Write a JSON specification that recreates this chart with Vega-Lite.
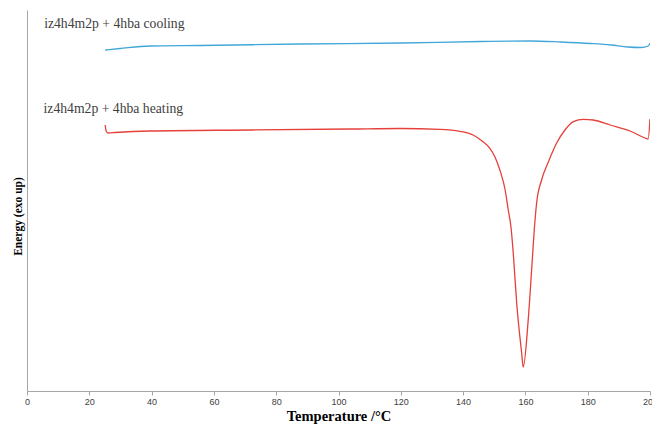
{
  "$schema": "https://vega.github.io/schema/vega-lite/v6.json",
  "width": 623,
  "height": 381,
  "autosize": {"type": "none"},
  "padding": {"left": 27, "top": 10, "right": 2, "bottom": 33},
  "background": "white",
  "config": {"view": {"stroke": null}},
  "datasets": {
    "curves": [
      {"series": "cooling", "T": 25.1, "E": 341},
      {"series": "cooling", "T": 29.9, "E": 342.5},
      {"series": "cooling", "T": 39.5, "E": 345},
      {"series": "cooling", "T": 55.6, "E": 345.5},
      {"series": "cooling", "T": 87.8, "E": 347},
      {"series": "cooling", "T": 119.9, "E": 348},
      {"series": "cooling", "T": 145.7, "E": 349.5},
      {"series": "cooling", "T": 161.7, "E": 350},
      {"series": "cooling", "T": 171.4, "E": 349},
      {"series": "cooling", "T": 181.0, "E": 347.5},
      {"series": "cooling", "T": 187.5, "E": 346},
      {"series": "cooling", "T": 192.9, "E": 344},
      {"series": "cooling", "T": 197.1, "E": 343.5},
      {"series": "cooling", "T": 199.4, "E": 345},
      {"series": "cooling", "T": 200.0, "E": 348},
      {"series": "heating", "T": 25.1, "E": 266},
      {"series": "heating", "T": 25.4, "E": 260},
      {"series": "heating", "T": 26.0, "E": 258},
      {"series": "heating", "T": 28.3, "E": 258.5},
      {"series": "heating", "T": 39.5, "E": 260},
      {"series": "heating", "T": 71.7, "E": 261},
      {"series": "heating", "T": 103.9, "E": 262},
      {"series": "heating", "T": 119.9, "E": 262.5},
      {"series": "heating", "T": 132.6, "E": 261.7},
      {"series": "heating", "T": 139.0, "E": 259.7},
      {"series": "heating", "T": 143.2, "E": 256},
      {"series": "heating", "T": 146.4, "E": 249.3},
      {"series": "heating", "T": 148.6, "E": 242.7},
      {"series": "heating", "T": 150.2, "E": 234.3},
      {"series": "heating", "T": 151.8, "E": 221},
      {"series": "heating", "T": 153.5, "E": 201},
      {"series": "heating", "T": 154.5, "E": 181},
      {"series": "heating", "T": 155.4, "E": 163},
      {"series": "heating", "T": 156.1, "E": 138},
      {"series": "heating", "T": 157.2, "E": 88},
      {"series": "heating", "T": 158.8, "E": 38},
      {"series": "heating", "T": 159.3, "E": 24},
      {"series": "heating", "T": 160.9, "E": 71},
      {"series": "heating", "T": 162.0, "E": 121},
      {"series": "heating", "T": 162.8, "E": 159},
      {"series": "heating", "T": 163.6, "E": 188},
      {"series": "heating", "T": 165.2, "E": 211},
      {"series": "heating", "T": 167.4, "E": 229.3},
      {"series": "heating", "T": 170.0, "E": 247.7},
      {"series": "heating", "T": 172.7, "E": 261},
      {"series": "heating", "T": 175.4, "E": 269.3},
      {"series": "heating", "T": 178.6, "E": 271.7},
      {"series": "heating", "T": 181.8, "E": 271},
      {"series": "heating", "T": 187.2, "E": 266},
      {"series": "heating", "T": 193.6, "E": 260},
      {"series": "heating", "T": 198.4, "E": 253},
      {"series": "heating", "T": 199.4, "E": 252},
      {"series": "heating", "T": 200.0, "E": 272}
    ],
    "labels": [
      {"label": "iz4h4m2p + 4hba cooling", "T": 5.5, "E": 363},
      {"label": "iz4h4m2p + 4hba heating", "T": 5.3, "E": 278}
    ]
  },
  "layer": [
    {
      "data": {"name": "curves"},
      "mark": {"type": "line", "strokeWidth": 1.3, "interpolate": "monotone", "clip": true},
      "encoding": {
        "x": {
          "field": "T", "type": "quantitative",
          "scale": {"domain": [0, 200], "nice": false, "zero": false},
          "axis": {
            "title": "Temperature /°C",
            "values": [0, 20, 40, 60, 80, 100, 120, 140, 160, 180, 200],
            "grid": false,
            "domainColor": "#a6a6a6",
            "tickColor": "#a6a6a6",
            "tickSize": 4,
            "labelFont": "Liberation Sans",
            "labelFontSize": 9,
            "labelColor": "#404040",
            "labelPadding": 2,
            "labelFlush": false,
            "labelOverlap": false,
            "titleFont": "Liberation Serif",
            "titleFontSize": 14.5,
            "titleFontWeight": "bold",
            "titleColor": "#000000",
            "titlePadding": 3
          }
        },
        "y": {
          "field": "E", "type": "quantitative",
          "scale": {"domain": [0, 381], "nice": false, "zero": false},
          "axis": {
            "title": "Energy (exo up)",
            "grid": false,
            "ticks": false,
            "labels": false,
            "domainColor": "#a6a6a6",
            "titleFont": "Liberation Serif",
            "titleFontSize": 11.5,
            "titleFontWeight": "bold",
            "titleColor": "#000000",
            "titlePadding": 4,
            "titleY": 206
          }
        },
        "color": {
          "field": "series", "type": "nominal",
          "scale": {"domain": ["cooling", "heating"], "range": ["#41a7d9", "#e5403a"]},
          "legend": null
        }
      }
    },
    {
      "data": {"name": "labels"},
      "mark": {"type": "text", "align": "left", "baseline": "alphabetic", "font": "Liberation Serif", "fontSize": 13.7, "color": "#404040"},
      "encoding": {
        "x": {"field": "T", "type": "quantitative"},
        "y": {"field": "E", "type": "quantitative"},
        "text": {"field": "label"}
      }
    }
  ]
}
